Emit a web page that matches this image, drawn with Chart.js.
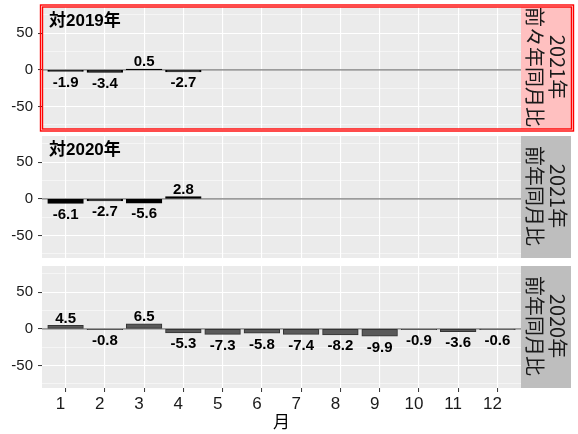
<!DOCTYPE html>
<html>
<head>
<meta charset="utf-8">
<script src="https://cdn.jsdelivr.net/npm/chart.js@4.4.1/dist/chart.umd.min.js"></script>
<style>
  html, body { margin: 0; padding: 0; background: #fff; }
  #wrap { position: relative; width: 578px; height: 434px; overflow: hidden; }
  #wrap canvas { position: absolute; left: 0; }
</style>
</head>
<body>
<div id="wrap">
  <canvas id="p1" width="578" height="134" style="top:0px"></canvas>
  <canvas id="p2" width="578" height="130" style="top:134px"></canvas>
  <canvas id="p3" width="578" height="170" style="top:264px"></canvas>
</div>
<script>
// data
var months = [1, 2, 3, 4, 5, 6, 7, 8, 9, 10, 11, 12];
var monthLabels = ['1', '2', '3', '4', '5', '6', '7', '8', '9', '10', '11', '12'];
var vs2019 = [-1.9, -3.4, 0.5, -2.7];        // 2021 vs 2019 (Jan-Apr)
var vs2020 = [-6.1, -2.7, -5.6, 2.8];        // 2021 vs 2020 (Jan-Apr)
var yoy2020 = [4.5, -0.8, 6.5, -5.3, -7.3, -5.8, -7.4, -8.2, -9.9, -0.9, -3.6, -0.6];
var yMajor = [-50, 0, 50];
var yMinor = [-75, -25, 25, 75];
var strip1 = ['2021年', '前々年同月比'];
var strip2 = ['2021年', '前年同月比'];
var strip3 = ['2020年', '前年同月比'];
var note1 = '対2019年';
var note2 = '対2020年';
var xTitle = '月';

var SANS = '"Liberation Sans", Arial, "Noto Sans CJK JP", sans-serif';
var JP = '"Noto Sans CJK JP", "Liberation Sans", sans-serif';

var panelPlugin = {
  id: 'panel',
  beforeDraw: function(chart) {
    var a = chart.chartArea, ctx = chart.ctx;
    ctx.save();
    ctx.fillStyle = '#ebebeb';
    ctx.fillRect(a.left, a.top, a.right - a.left, a.bottom - a.top);
    ctx.restore();
  },
  beforeDatasetsDraw: function(chart) {
    var a = chart.chartArea, ctx = chart.ctx;
    var y0 = chart.scales.y.getPixelForValue(0);
    ctx.save();
    ctx.strokeStyle = '#7a7a7a';
    ctx.lineWidth = 1.3;
    ctx.beginPath();
    ctx.moveTo(a.left, y0);
    ctx.lineTo(a.right, y0);
    ctx.stroke();
    ctx.restore();
  },
  afterDatasetsDraw: function(chart) {
    var ctx = chart.ctx;
    var meta = chart.getDatasetMeta(0);
    var vals = chart.data.datasets[0].data;
    ctx.save();
    ctx.fillStyle = '#000';
    ctx.font = 'bold 15px ' + SANS;
    ctx.textAlign = 'center';
    ctx.textBaseline = 'alphabetic';
    meta.data.forEach(function(el, i) {
      var v = vals[i].y;
      var ty = v >= 0 ? el.y - 3 : el.y + 15.5;
      ctx.fillText(v.toFixed(1), el.x, ty);
    });
    ctx.restore();
  },
  afterDraw: function(chart) {
    var o = chart.options.plugins.panel;
    var a = chart.chartArea, ctx = chart.ctx;
    ctx.save();
    // strip on the right
    ctx.fillStyle = o.stripFill;
    ctx.fillRect(521, a.top, 50, a.bottom - a.top);
    ctx.fillStyle = '#1a1a1a';
    ctx.font = '20px ' + JP;
    ctx.textAlign = 'center';
    ctx.textBaseline = 'middle';
    ctx.translate(546, (a.top + a.bottom) / 2 - 1);
    ctx.rotate(Math.PI / 2);
    ctx.fillText(o.strip[0], 0, -11.5);
    ctx.fillText(o.strip[1], 0, 11.5);
    ctx.restore();
    // note in the top-left corner
    if (o.note) {
      ctx.save();
      ctx.fillStyle = '#000';
      ctx.font = 'bold 17px ' + SANS;
      ctx.textAlign = 'left';
      ctx.textBaseline = 'alphabetic';
      ctx.fillText(o.note, 49, a.top + 18.5);
      ctx.restore();
    }
    if (o.redBox) {
      ctx.save();
      ctx.strokeStyle = '#ff0000';
      ctx.lineWidth = 1.4;
      ctx.strokeRect(40.5, 5, 533, 126);
      ctx.strokeRect(42.5, 7, 529, 122);
      ctx.restore();
    }
  }
};

function makePanel(id, values, o) {
  var pts = values.map(function(v, i) { return { x: months[i], y: v }; });
  var allY = yMinor.concat(yMajor).sort(function(a, b) { return a - b; });
  var ctx = document.getElementById(id).getContext('2d');
  return new Chart(ctx, {
    type: 'bar',
    data: {
      datasets: [{
        data: pts,
        backgroundColor: o.fill,
        borderColor: o.border,
        borderWidth: 1,
        borderSkipped: false,
        inflateAmount: 0.5,
        barPercentage: 0.9,
        categoryPercentage: 1.0
      }]
    },
    options: {
      responsive: false,
      animation: false,
      layout: { padding: { left: 0, right: 57, top: o.padTop, bottom: o.padBottom } },
      plugins: {
        legend: { display: false },
        tooltip: { enabled: false },
        panel: { strip: o.strip, stripFill: o.stripFill, note: o.note, redBox: o.redBox }
      },
      scales: {
        x: {
          type: 'linear',
          offset: false,
          min: 0.4,
          max: 12.6,
          afterBuildTicks: function(s) { s.ticks = months.map(function(m) { return { value: m }; }); },
          afterFit: function(s) {
            s.height = o.showX ? 46 : 0;
            s.paddingLeft = 0; s.paddingRight = 0;
          },
          border: { display: false },
          grid: {
            offset: false,
            color: '#ffffff',
            lineWidth: 1.1,
            drawTicks: o.showX,
            tickLength: 4,
            tickColor: '#333333',
            tickWidth: 1
          },
          ticks: {
            display: o.showX,
            autoSkip: false,
            maxRotation: 0,
            padding: 2,
            labelOffset: -5,
            color: '#1a1a1a',
            font: { family: SANS, size: 17 },
            callback: function(v) { return monthLabels[months.indexOf(v)]; }
          },
          title: {
            display: o.showX,
            text: xTitle,
            color: '#000',
            font: { family: JP, size: 17 },
            padding: { top: 0, bottom: 2 }
          }
        },
        y: {
          min: -80.5,
          max: 85.5,
          afterBuildTicks: function(s) { s.ticks = allY.map(function(v) { return { value: v }; }); },
          afterFit: function(s) {
            s.width = 42;
            s.paddingTop = 0; s.paddingBottom = 0;
          },
          border: { display: false },
          grid: {
            color: '#ffffff',
            lineWidth: function(c) { return yMajor.indexOf(c.tick.value) >= 0 ? 1.1 : 0.5; },
            tickLength: 4,
            tickWidth: 1,
            tickColor: function(c) { return yMajor.indexOf(c.tick.value) >= 0 ? '#333333' : 'rgba(0,0,0,0)'; }
          },
          ticks: {
            autoSkip: false,
            padding: 5,
            color: '#1a1a1a',
            font: { family: SANS, size: 15 },
            callback: function(v) { return yMajor.indexOf(v) >= 0 ? String(v) : ''; }
          }
        }
      }
    },
    plugins: [panelPlugin]
  });
}

makePanel('p1', vs2019, {
  fill: '#000000', border: '#000000', strip: strip1, stripFill: '#ffc0c0',
  note: note1, redBox: true, showX: false, padTop: 7, padBottom: 5
});
makePanel('p2', vs2020, {
  fill: '#000000', border: '#000000', strip: strip2, stripFill: '#bebebe',
  note: note2, redBox: false, showX: false, padTop: 2, padBottom: 6
});
makePanel('p3', yoy2020, {
  fill: '#595959', border: '#333333', strip: strip3, stripFill: '#bebebe',
  note: null, redBox: false, showX: true, padTop: 2, padBottom: 0
});
</script>
</body>
</html>
